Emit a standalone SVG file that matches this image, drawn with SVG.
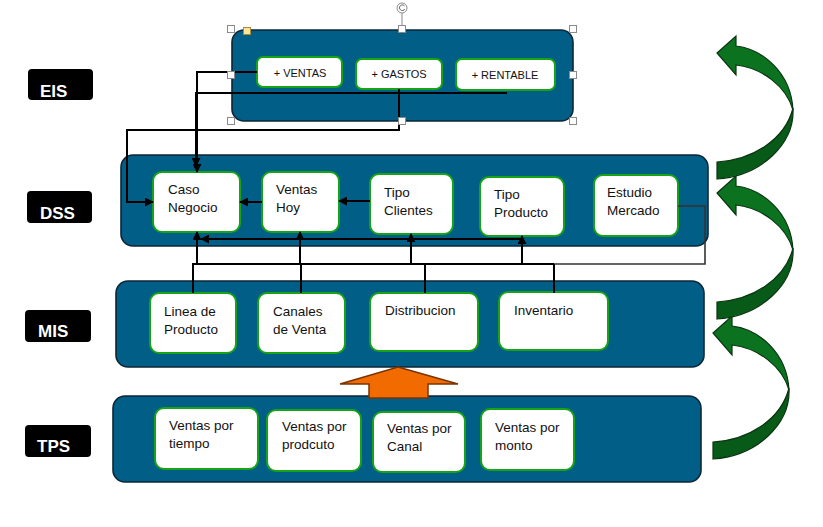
<svg xmlns="http://www.w3.org/2000/svg" width="823" height="527" viewBox="0 0 823 527">
<style>
.cont{fill:#015E87;stroke:#0c2636;stroke-width:1.6}
.box{fill:#ffffff;stroke:#16A316;stroke-width:2}
.t{font-family:"Liberation Sans",Arial,sans-serif;font-size:13.5px;fill:#111}
.te{font-family:"Liberation Sans",Arial,sans-serif;font-size:11px;fill:#111;text-anchor:middle}
.lbl{fill:#000}
.lt{font-family:"Liberation Sans",Arial,sans-serif;font-size:17px;font-weight:bold;fill:#fff}
.c{fill:none;stroke:#000;stroke-width:2}
.cg{fill:none;stroke:#333;stroke-width:1.6}
.h{fill:#fff;stroke:#8a8a8a;stroke-width:1}
.gtop{fill:#0B7320;stroke:#0a3410;stroke-width:1.2}
.gbot{fill:#075A17;stroke:#0a3410;stroke-width:1.2}
</style>
<defs>
<marker id="ah" viewBox="0 0 10 10" refX="9" refY="5" markerWidth="9" markerHeight="9" markerUnits="userSpaceOnUse" orient="auto">
<path d="M0,0 L10,5 L0,10 Z" fill="#000"/>
</marker>
<g id="garrow">
<path class="gbot" d="M76,55 C78,92 43,123 0,126 L0,109 C35,107 68,87 76,55 Z"/>
<path class="gtop" d="M0,0 L19,-17 L19,-7 C45,-4 74,19 76,57 C69,33 45,15 19,12 L19,22 Z"/>
</g>
</defs>

<!-- Layer labels -->
<g id="label-eis"><rect class="lbl" x="28" y="69" width="65" height="31" rx="4"/><text class="lt" x="40" y="97">EIS</text></g>
<g id="label-dss"><rect class="lbl" x="27" y="191" width="65" height="32" rx="4"/><text class="lt" x="40" y="219">DSS</text></g>
<g id="label-mis"><rect class="lbl" x="25" y="310" width="66" height="32" rx="4"/><text class="lt" x="38" y="337">MIS</text></g>
<g id="label-tps"><rect class="lbl" x="25" y="425" width="66" height="32" rx="4"/><text class="lt" x="37" y="452">TPS</text></g>

<!-- Containers -->
<g id="eis"><rect class="cont" x="232" y="30" width="341" height="91" rx="12"/></g>
<g id="dss"><rect class="cont" x="121" y="155" width="587" height="91" rx="12"/></g>
<g id="mis"><rect class="cont" x="116" y="281" width="588" height="86" rx="12"/></g>
<g id="tps"><rect class="cont" x="113" y="396" width="588" height="86" rx="12"/></g>

<!-- EIS nodes -->
<g id="eis-ventas"><rect class="box" x="257" y="57" width="85" height="30" rx="6"/><text class="te" x="300" y="77">+ VENTAS</text></g>
<g id="eis-gastos"><rect class="box" x="356" y="59" width="86" height="30" rx="6"/><text class="te" x="399" y="78">+ GASTOS</text></g>
<g id="eis-rentable"><rect class="box" x="456" y="59" width="99" height="31" rx="6"/><text class="te" x="505" y="79">+ RENTABLE</text></g>

<!-- DSS nodes -->
<g id="caso-negocio"><rect class="box" x="153" y="172" width="87" height="60" rx="9"/><text class="t" x="168" y="194">Caso</text><text class="t" x="168" y="212">Negocio</text></g>
<g id="ventas-hoy"><rect class="box" x="262" y="172" width="77" height="60" rx="9"/><text class="t" x="276" y="194">Ventas</text><text class="t" x="276" y="212">Hoy</text></g>
<g id="tipo-clientes"><rect class="box" x="370" y="174" width="83" height="60" rx="9"/><text class="t" x="384" y="197">Tipo</text><text class="t" x="384" y="215">Clientes</text></g>
<g id="tipo-producto"><rect class="box" x="480" y="177" width="84" height="59" rx="9"/><text class="t" x="494" y="199">Tipo</text><text class="t" x="494" y="217">Producto</text></g>
<g id="estudio-mercado"><rect class="box" x="594" y="175" width="84" height="61" rx="9"/><text class="t" x="607" y="197">Estudio</text><text class="t" x="607" y="215">Mercado</text></g>

<!-- MIS nodes -->
<g id="linea-producto"><rect class="box" x="150" y="293" width="86" height="60" rx="9"/><text class="t" x="164" y="316">Linea de</text><text class="t" x="164" y="334">Producto</text></g>
<g id="canales-venta"><rect class="box" x="258" y="293" width="87" height="60" rx="9"/><text class="t" x="273" y="316">Canales</text><text class="t" x="273" y="334">de Venta</text></g>
<g id="distribucion"><rect class="box" x="370" y="293" width="108" height="58" rx="9"/><text class="t" x="385" y="315">Distribucion</text></g>
<g id="inventario"><rect class="box" x="499" y="292" width="109" height="58" rx="9"/><text class="t" x="514" y="315">Inventario</text></g>

<!-- TPS nodes -->
<g id="ventas-tiempo"><rect class="box" x="155" y="408" width="103" height="61" rx="9"/><text class="t" x="169" y="430">Ventas por</text><text class="t" x="169" y="448">tiempo</text></g>
<g id="ventas-prodcuto"><rect class="box" x="267" y="410" width="94" height="61" rx="9"/><text class="t" x="282" y="431">Ventas por</text><text class="t" x="282" y="449">prodcuto</text></g>
<g id="ventas-canal"><rect class="box" x="373" y="412" width="92" height="60" rx="9"/><text class="t" x="387" y="433">Ventas por</text><text class="t" x="387" y="451">Canal</text></g>
<g id="ventas-monto"><rect class="box" x="481" y="409" width="93" height="61" rx="9"/><text class="t" x="495" y="432">Ventas por</text><text class="t" x="495" y="450">monto</text></g>

<!-- Connectors -->
<g id="connectors">
<path class="c" d="M257,72 H197 V172" marker-end="url(#ah)"/>
<path class="c" d="M507,93 H196 V166" marker-end="url(#ah)"/>
<path class="c" d="M399,89 V130 H127 V202 H153" marker-end="url(#ah)"/>
<path class="c" d="M262,202 H240" marker-end="url(#ah)"/>
<path class="c" d="M370,201 H339" marker-end="url(#ah)"/>
<path class="c" d="M193,293 V264 H554"/>
<path class="cg" d="M554,264 H705 V206 H678"/>
<path class="c" d="M301,293 V264"/>
<path class="c" d="M425,293 V264"/>
<path class="c" d="M554,293 V264"/>
<path class="c" d="M197,264 V232" marker-end="url(#ah)"/>
<path class="c" d="M300,264 V232" marker-end="url(#ah)"/>
<path class="c" d="M411,264 V234" marker-end="url(#ah)"/>
<path class="c" d="M522,264 V236" marker-end="url(#ah)"/>
<path class="c" d="M522,239 H201" marker-end="url(#ah)"/>
</g>

<!-- Orange up arrow -->
<g id="orange-arrow"><polygon points="398,367 458,384 428,384 428,398 369,398 369,384 340,384" fill="#F26B00" stroke="#7a3300" stroke-width="1.5"/></g>

<!-- Green curved arrows -->
<g id="green-arrows">
<use href="#garrow" x="713" y="333"/>
<use href="#garrow" x="717" y="193"/>
<use href="#garrow" x="717" y="53"/>
</g>

<!-- Selection handles on EIS -->
<g id="selection">
<line x1="402" y1="13" x2="402" y2="26" stroke="#8a8a8a" stroke-width="1"/>
<circle cx="402" cy="8" r="5" fill="#fff" stroke="#8a8a8a" stroke-width="1"/>
<path d="M404.5,6 A2.8,2.8 0 1 0 404.8,9" fill="none" stroke="#666" stroke-width="1"/>
<rect class="h" x="227.5" y="25.5" width="7" height="7"/>
<rect class="h" x="398.5" y="25.5" width="7" height="7"/>
<rect class="h" x="569.5" y="25.5" width="7" height="7"/>
<rect class="h" x="227.5" y="71.5" width="7" height="7"/>
<rect class="h" x="569.5" y="71.5" width="7" height="7"/>
<rect class="h" x="227.5" y="117.5" width="7" height="7"/>
<rect class="h" x="398.5" y="117.5" width="7" height="7"/>
<rect class="h" x="569.5" y="117.5" width="7" height="7"/>
<rect x="243.5" y="27.5" width="7" height="7" fill="#FCE49B" stroke="#b08a30" stroke-width="1"/>
</g>
</svg>
